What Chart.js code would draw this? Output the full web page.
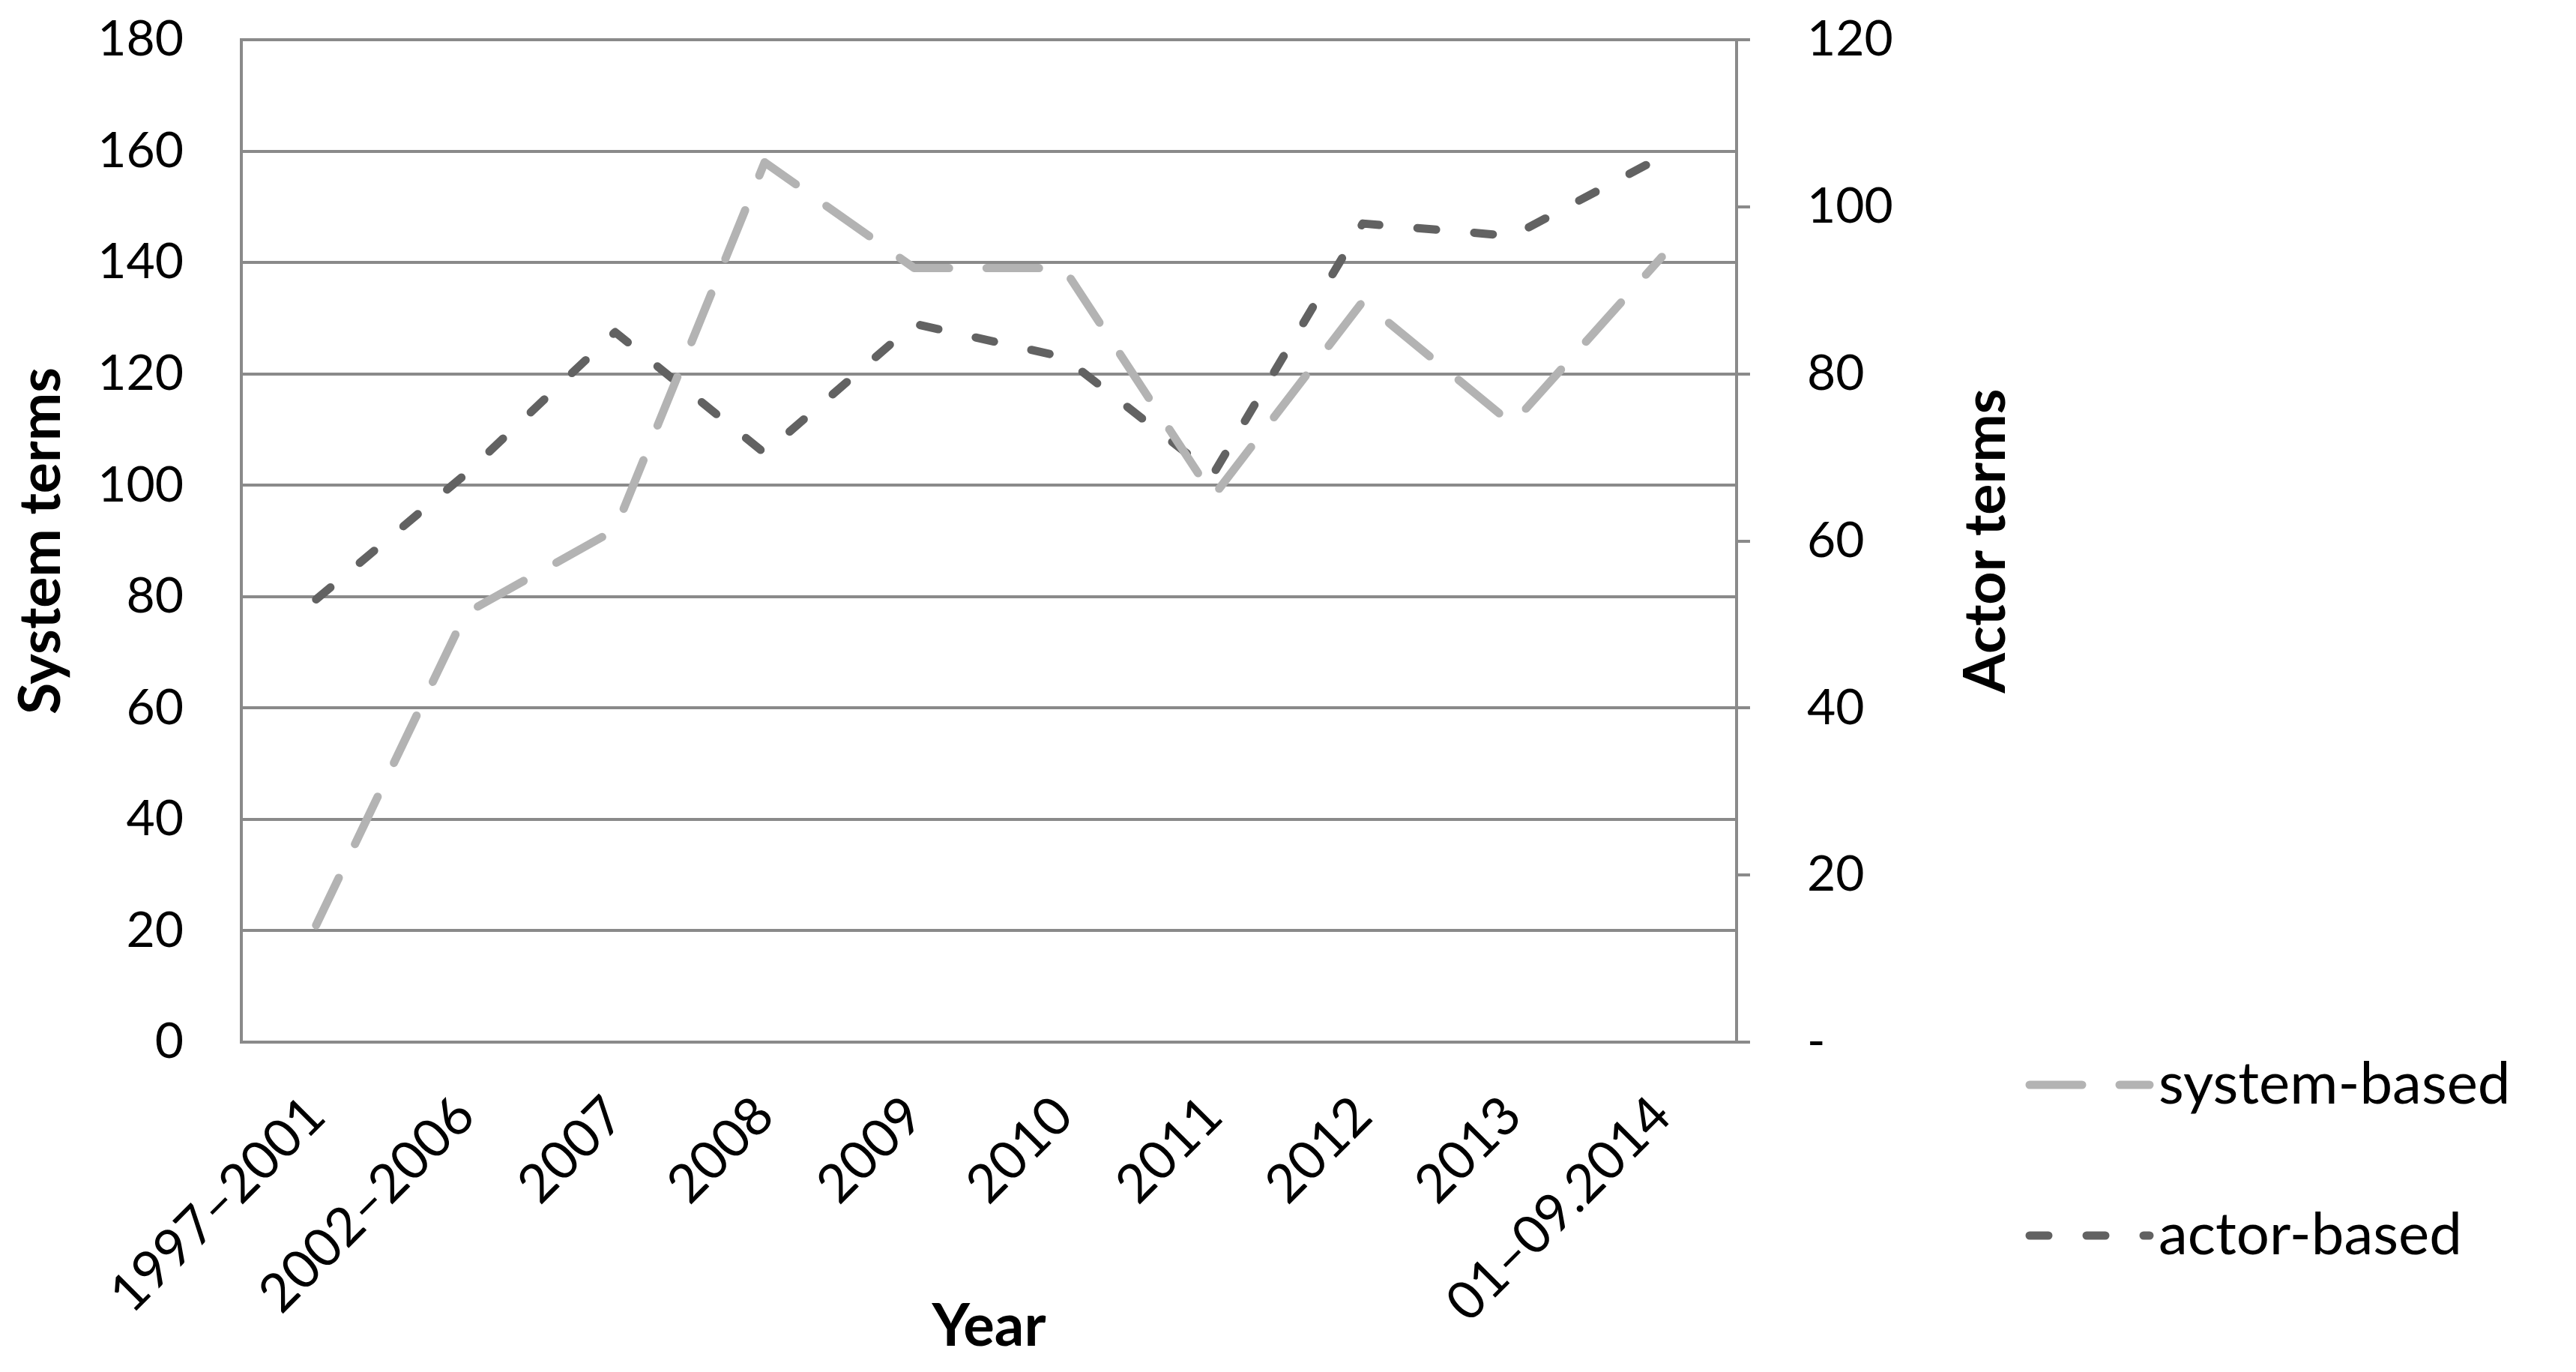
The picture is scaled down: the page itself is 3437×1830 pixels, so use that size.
<!DOCTYPE html>
<html>
<head>
<meta charset="utf-8">
<script src="https://cdn.jsdelivr.net/npm/chart.js@4.4.1/dist/chart.umd.min.js"></script>
<style>
  html, body { margin: 0; padding: 0; background: #fff; }
  #wrap { width: 3437px; height: 1830px; }
</style>
</head>
<body>
<div id="wrap"><canvas id="termsChart" width="3437" height="1830"></canvas></div>
<script>
// Categories and series
const categories = ['1997–2001', '2002–2006', '2007', '2008', '2009', '2010', '2011', '2012', '2013', '01–09.2014'];
const systemTerms = [21, 77, 92, 158, 139, 139, 98, 133, 111, 141];
const actorTerms = [53, 68, 85, 70.5, 86, 82, 68, 98, 96.5, 106];
const seriesNames = ['system-based', 'actor-based'];
const axisTitles = ['System terms', 'Actor terms', 'Year'];

const gridGray = '#8a8a8a';
const fontFamily = 'Lato, "Liberation Sans", sans-serif';

// Draws the right axis title (reading upward) and the legend on the right
const extrasPlugin = {
    id: 'extras',
    afterDraw(chart) {
        const ctx = chart.ctx;
        const area = chart.chartArea;
        ctx.save();
        ctx.fillStyle = '#000';
        ctx.font = 'bold 77px ' + fontFamily;
        ctx.textAlign = 'center';
        ctx.textBaseline = 'middle';
        ctx.translate(2650, (area.top + area.bottom) / 2);
        ctx.rotate(-Math.PI / 2);
        ctx.fillText(axisTitles[1], 0, 0);
        ctx.restore();

        const rows = [1447, 1648];
        chart.data.datasets.forEach(function (ds, i) {
            ctx.save();
            ctx.strokeStyle = ds.borderColor;
            ctx.lineWidth = ds.borderWidth;
            ctx.lineCap = 'round';
            ctx.setLineDash(ds.borderDash);
            ctx.beginPath();
            ctx.moveTo(2708, rows[i]);
            ctx.lineTo(2868, rows[i]);
            ctx.stroke();
            ctx.setLineDash([]);
            ctx.fillStyle = '#000';
            ctx.font = '78px ' + fontFamily;
            ctx.textAlign = 'left';
            ctx.textBaseline = 'middle';
            ctx.fillText(ds.label, 2880, rows[i]);
            ctx.restore();
        });
    }
};

function noPad(scale) {
    scale.paddingTop = 0;
    scale.paddingBottom = 0;
}

const ctx = document.getElementById('termsChart').getContext('2d');
new Chart(ctx, {
    type: 'line',
    data: {
        labels: categories,
        datasets: [{
            label: seriesNames[0],
            data: systemTerms,
            yAxisID: 'y',
            borderColor: '#b3b3b3',
            borderWidth: 11,
            borderDash: [70, 50],
            borderCapStyle: 'round',
            borderJoinStyle: 'round',
            pointRadius: 0,
            fill: false,
            tension: 0
        }, {
            label: seriesNames[1],
            data: actorTerms,
            yAxisID: 'y1',
            borderColor: '#626262',
            borderWidth: 11,
            borderDash: [25, 51],
            borderCapStyle: 'round',
            borderJoinStyle: 'round',
            pointRadius: 0,
            fill: false,
            tension: 0
        }]
    },
    options: {
        responsive: false,
        animation: false,
        devicePixelRatio: 1,
        layout: { padding: { top: 53, left: 0, right: 0, bottom: 0 } },
        plugins: {
            legend: { display: false },
            tooltip: { enabled: false }
        },
        scales: {
            x: {
                offset: true,
                grid: { display: false, drawTicks: false },
                border: { display: true, color: gridGray, width: 4 },
                ticks: {
                    color: '#000',
                    font: { family: fontFamily, size: 71 },
                    minRotation: 45,
                    maxRotation: 45,
                    padding: 56,
                    autoSkip: false
                },
                title: {
                    display: true,
                    text: axisTitles[2],
                    color: '#000',
                    font: { family: fontFamily, size: 78, weight: 'bold' },
                    padding: { top: 0, bottom: 13 }
                },
                afterFit: function (scale) {
                    scale.height = 440;
                    scale.paddingLeft = 0;
                    scale.paddingRight = 0;
                }
            },
            y: {
                position: 'left',
                min: 0,
                max: 180,
                ticks: {
                    stepSize: 20,
                    color: '#000',
                    font: { family: fontFamily, size: 66 },
                    padding: 77
                },
                grid: { color: gridGray, lineWidth: 4, drawTicks: false },
                border: { display: true, color: gridGray, width: 4 },
                title: {
                    display: true,
                    text: axisTitles[0],
                    color: '#000',
                    font: { family: fontFamily, size: 77, weight: 'bold' },
                    padding: { top: 9, bottom: 0 }
                },
                afterFit: function (scale) { scale.width = 322; noPad(scale); }
            },
            y1: {
                position: 'right',
                min: 0,
                max: 120,
                ticks: {
                    stepSize: 20,
                    color: '#000',
                    font: { family: fontFamily, size: 66 },
                    padding: 76,
                    callback: function (value) { return value === 0 ? '-' : value; }
                },
                grid: {
                    drawOnChartArea: false,
                    drawTicks: true,
                    tickLength: 18,
                    color: gridGray,
                    lineWidth: 4
                },
                border: { display: true, color: gridGray, width: 4 },
                afterFit: function (scale) { scale.width = 1120; noPad(scale); }
            }
        }
    },
    plugins: [extrasPlugin]
});
</script>
</body>
</html>
